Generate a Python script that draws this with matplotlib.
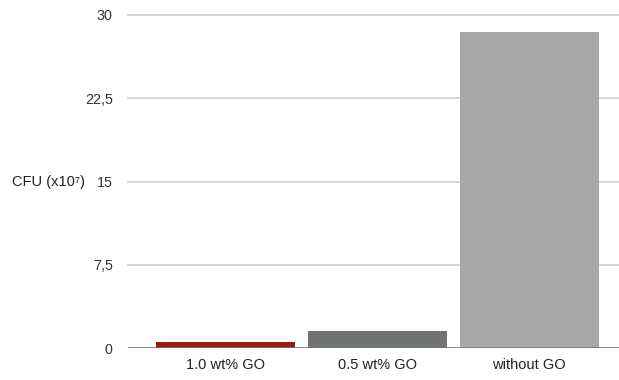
import matplotlib
matplotlib.use("Agg")
import matplotlib.pyplot as plt

plt.rcParams["font.family"] = ["Liberation Sans", "DejaVu Sans"]

categories = ["1.0 wt% GO", "0.5 wt% GO", "without GO"]
values = [0.55, 1.5, 28.5]
colors = ["#9c1a12", "#6e7471", "#a8a8a8"]
yticks = [0, 7.5, 15, 22.5, 30]
yticklabels = ["0", "7,5", "15", "22,5", "30"]

fig = plt.figure(figsize=(6.19, 3.80), dpi=100)
ax = fig.add_axes([128/619, 1-348/380, 1-128/619, (348-15)/380])
x = range(len(categories))
ax.bar(x, values, width=0.915, color=colors, zorder=3)
ax.set_xlim(-0.64, 2.59)
ax.set_ylim(0, 30)
ax.set_yticks(yticks)
ax.set_yticklabels(yticklabels, fontsize=10.3, color="#333333")
ax.set_xticks(list(x))
ax.set_xticklabels(categories, fontsize=10.5, color="#222222")
ax.tick_params(axis="y", length=0, pad=11)
ax.tick_params(axis="x", length=0, pad=7.5)
for y in yticks[1:]:
    ax.axhline(y, color="#d0d0d0", linewidth=1.2, zorder=1, clip_on=False)
ax.axhline(0, color="#777777", linewidth=1.2, zorder=4)
for s in ax.spines.values():
    s.set_visible(False)
fig.text(12/619, 1-182/380, "CFU (x10\u2077)", fontsize=10.5, color="#222222", va="center", ha="left")
fig.savefig("out.png", dpi=100)
